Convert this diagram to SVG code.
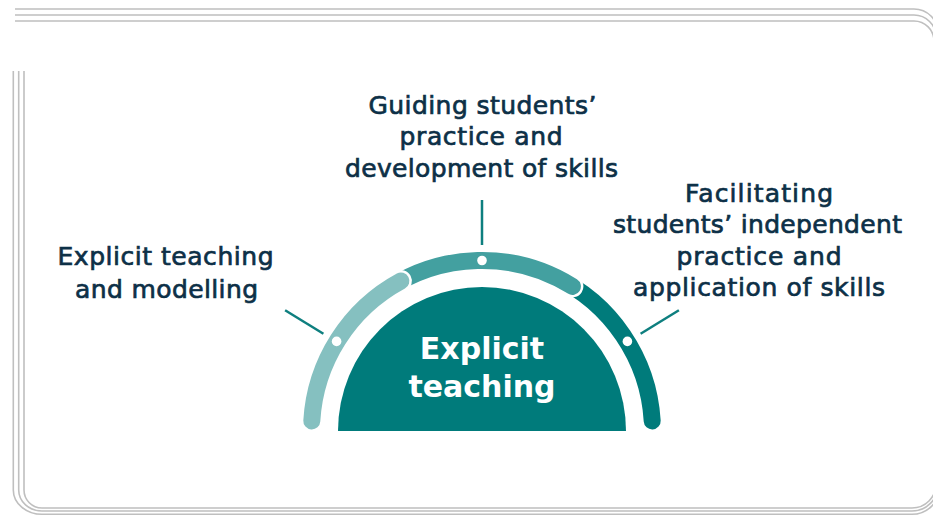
<svg xmlns="http://www.w3.org/2000/svg" width="933" height="517" viewBox="0 0 933 517">
<style>
.frame{fill:none;stroke:#bfbfbf;stroke-width:1.6}
.lbl{font-family:"DejaVu Sans","Liberation Sans",sans-serif;font-size:25px;fill:#0d3047;stroke:#0d3047;stroke-width:0.7;text-anchor:middle}
.core{font-family:"DejaVu Sans","Liberation Sans",sans-serif;font-size:30px;font-weight:bold;fill:#ffffff;text-anchor:middle}
.conn{stroke:#0e7f7f;stroke-width:2.5;fill:none}
.dot{fill:#ffffff}
</style>
<rect width="933" height="517" fill="#ffffff"/>
<g id="frame">
<path class="frame" d="M15 9 H914 A24 24 0 0 1 938 33"/>
<path class="frame" d="M15 15 H914 A22 22 0 0 1 936 37"/>
<path class="frame" d="M15 21 H914 A20 20 0 0 1 934 41"/>
<path class="frame" d="M24 71 V490 A18 18 0 0 0 42 508 H912 A24 24 0 0 0 936 484"/>
<path class="frame" d="M18.7 71 V490 A23.3 21 0 0 0 42 511 H912 A26 26 0 0 0 938 485"/>
<path class="frame" d="M13.3 71 V490 A28.7 24.3 0 0 0 42 514.3 H912 A28 28 0 0 0 940 486.3"/>
</g>
<g id="connectors">
<line class="conn" x1="323.4" y1="333.8" x2="285.1" y2="310.3"/>
<line class="conn" x1="482" y1="245" x2="482" y2="200"/>
<line class="conn" x1="640.6" y1="333.8" x2="678.9" y2="310.3"/>
</g>
<g id="arc">
<path d="M554.1 276.5 A170.5 170.5 0 0 1 652.2 420.9" fill="none" stroke="#007b7b" stroke-width="17" stroke-linecap="round"/>
<path d="M384.2 291.3 A170.5 170.5 0 0 1 572.4 286.4" fill="none" stroke="#ffffff" stroke-width="22" stroke-linecap="round"/>
<path d="M384.2 291.3 A170.5 170.5 0 0 1 572.4 286.4" fill="none" stroke="#43a0a0" stroke-width="17" stroke-linecap="round"/>
<path d="M311.8 420.9 A170.5 170.5 0 0 1 400.9 281" fill="none" stroke="#ffffff" stroke-width="22" stroke-linecap="round"/>
<path d="M311.8 420.9 A170.5 170.5 0 0 1 400.9 281" fill="none" stroke="#85c0c0" stroke-width="17" stroke-linecap="round"/>
<circle class="dot" cx="336.6" cy="341.4" r="4.8"/>
<circle class="dot" cx="482" cy="260.5" r="4.8"/>
<circle class="dot" cx="627.4" cy="341.4" r="4.8"/>
</g>
<g id="core">
<path d="M338 431 A144 144 0 0 1 626 431 Z" fill="#007b7b"/>
<text class="core" x="482" y="359">Explicit</text>
<text class="core" x="482" y="397">teaching</text>
</g>
<g id="label-left">
<text class="lbl" x="165.5" y="265" textLength="216" lengthAdjust="spacing">Explicit teaching</text>
<text class="lbl" x="166.5" y="297.5" textLength="183" lengthAdjust="spacing">and modelling</text>
</g>
<g id="label-middle">
<text class="lbl" x="482.5" y="113.5" textLength="228" lengthAdjust="spacing">Guiding students’</text>
<text class="lbl" x="481" y="145" textLength="163" lengthAdjust="spacing">practice and</text>
<text class="lbl" x="481.5" y="176.5" textLength="273" lengthAdjust="spacing">development of skills</text>
</g>
<g id="label-right">
<text class="lbl" x="759" y="201.5" textLength="148" lengthAdjust="spacing">Facilitating</text>
<text class="lbl" x="757.5" y="233" textLength="289" lengthAdjust="spacing">students’ independent</text>
<text class="lbl" x="759" y="264.5" textLength="165" lengthAdjust="spacing">practice and</text>
<text class="lbl" x="759" y="296" textLength="252" lengthAdjust="spacing">application of skills</text>
</g>
</svg>
